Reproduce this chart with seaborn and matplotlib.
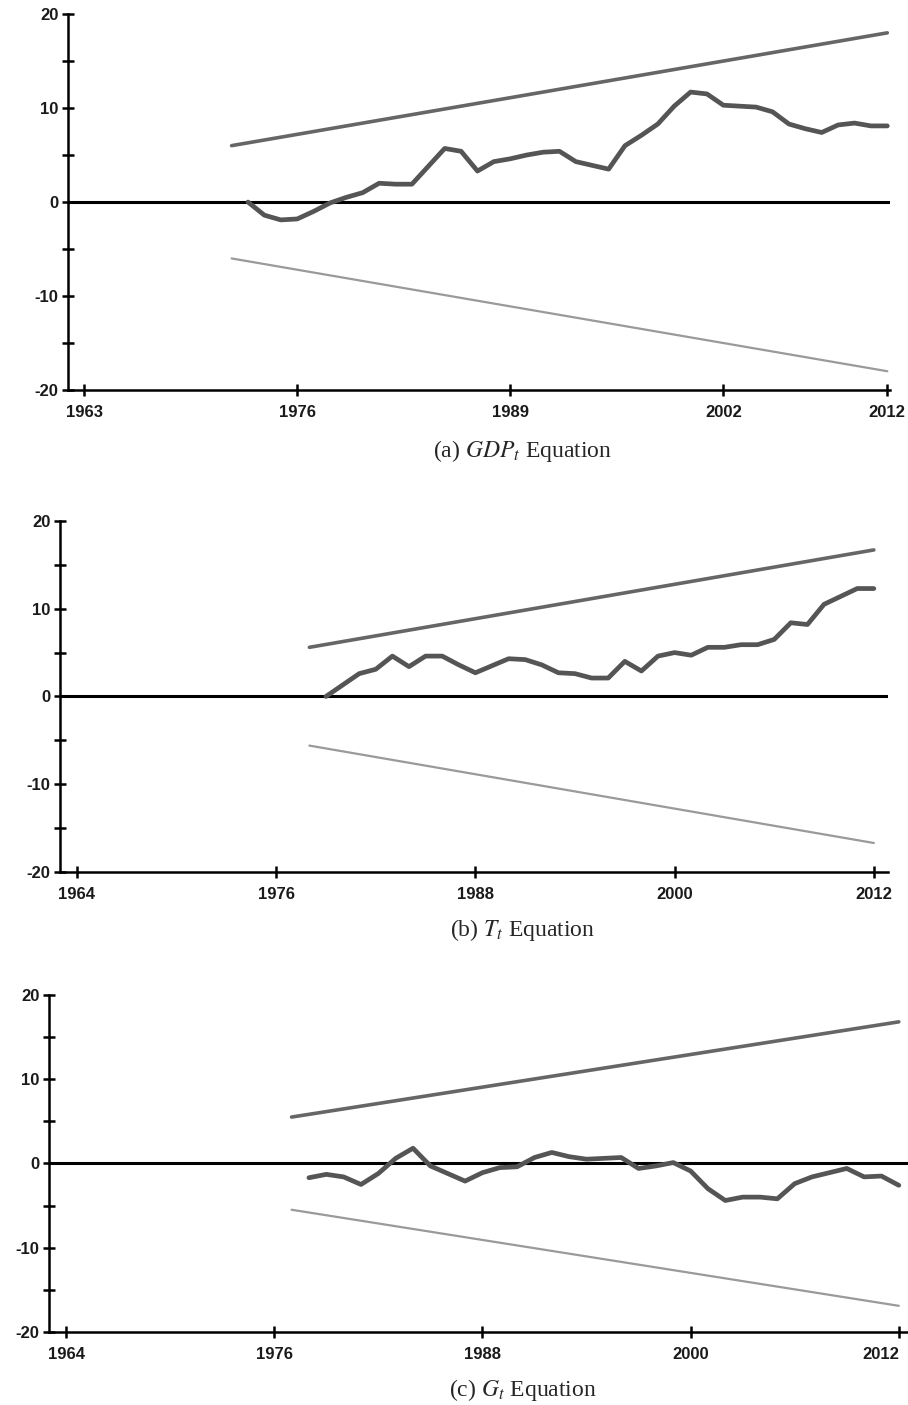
import numpy as np
import matplotlib
matplotlib.use("Agg")
import matplotlib.pyplot as plt
from matplotlib.ticker import FixedLocator, FuncFormatter
import seaborn as sns

sns.set_style("white")
plt.rcParams['font.family'] = ['Liberation Sans', 'DejaVu Sans']
plt.rcParams['mathtext.fontset'] = 'stix'

# (a) GDP equation
years_a = list(range(1973, 2013))
cusum_a = [0.0, -1.4, -1.9, -1.8, -1.0, -0.1, 0.5, 1.0, 2.0, 1.9,
           1.9, 3.8, 5.7, 5.4, 3.3, 4.3, 4.6, 5.0, 5.3, 5.4,
           4.3, 3.9, 3.5, 6.0, 7.1, 8.3, 10.2, 11.7, 11.5, 10.3,
           10.2, 10.1, 9.6, 8.3, 7.8, 7.4, 8.2, 8.4, 8.1, 8.1]
bound_years_a = [1972, 2012]
upper_a = [6.0, 18.0]
lower_a = [-6.0, -18.0]
xticks_a = [1963, 1976, 1989, 2002, 2012]

# (b) T equation
years_b = list(range(1979, 2013))
cusum_b = [0.0, 1.3, 2.6, 3.1, 4.6, 3.4, 4.6, 4.6, 3.6, 2.7,
           3.5, 4.3, 4.2, 3.6, 2.7, 2.6, 2.1, 2.1, 4.0, 2.9,
           4.6, 5.0, 4.7, 5.6, 5.6, 5.9, 5.9, 6.5, 8.4, 8.2,
           10.5, 11.4, 12.3, 12.3]
bound_years_b = [1978, 2012]
upper_b = [5.6, 16.7]
lower_b = [-5.6, -16.7]
xticks_b = [1964, 1976, 1988, 2000, 2012]

# (c) G equation
years_c = list(range(1978, 2013))
cusum_c = [-1.7, -1.3, -1.6, -2.5, -1.2, 0.6, 1.8, -0.3, -1.2, -2.1,
           -1.1, -0.5, -0.4, 0.7, 1.3, 0.8, 0.5, 0.6, 0.7, -0.6,
           -0.3, 0.1, -0.9, -3.0, -4.4, -4.0, -4.0, -4.2, -2.4, -1.6,
           -1.1, -0.6, -1.6, -1.5, -2.6]
bound_years_c = [1977, 2012]
upper_c = [5.5, 16.8]
lower_c = [-5.5, -16.9]
xticks_c = [1964, 1976, 1988, 2000, 2012]

captions = [r"(a) $\mathit{GDP}_t$ Equation", r"(b) $T_t$ Equation", r"(c) $G_t$ Equation"]

fig = plt.figure(figsize=(9.08, 14.05), dpi=100)

panels = [
    ([0.0749, 0.7224, 0.905, 0.2676], (1962.02, 2012.15), years_a, cusum_a, bound_years_a, upper_a, lower_a, xticks_a, (523, 451)),
    ([0.0661, 0.3794, 0.912, 0.2498], (1962.98, 2012.86), years_b, cusum_b, bound_years_b, upper_b, lower_b, xticks_b, (523, 930)),
    ([0.0540, 0.0520, 0.946, 0.2399], (1963.02, 2012.53), years_c, cusum_c, bound_years_c, upper_c, lower_c, xticks_c, (523, 1390)),
]

for i, (rect, xlim, yrs, cs, byrs, up, lo, xt, cap) in enumerate(panels):
    ax = fig.add_axes(rect)
    ax.axhline(0, color='black', lw=2.2, zorder=1)
    sns.lineplot(x=byrs, y=up, ax=ax, color='#666666', lw=2.6)
    sns.lineplot(x=byrs, y=lo, ax=ax, color='#9a9a9a', lw=1.6)
    sns.lineplot(x=yrs, y=cs, ax=ax, color='#555555', lw=3.4)
    ax.set_xlim(*xlim)
    ax.set_ylim(-20, 20)
    ax.set_xticks(xt)
    ax.set_xticklabels([str(v) for v in xt])
    ax.yaxis.set_major_locator(FixedLocator([-20, -15, -10, -5, 0, 5, 10, 15, 20]))
    ax.yaxis.set_major_formatter(FuncFormatter(lambda v, p: f"{int(v)}" if v % 10 == 0 else ""))
    ax.set_xlabel("")
    ax.set_ylabel("")
    for s in ['top', 'right']:
        ax.spines[s].set_visible(False)
    for s in ['left', 'bottom']:
        ax.spines[s].set_color('black')
        ax.spines[s].set_linewidth(1.8)
    ax.tick_params(axis='both', direction='inout', length=8, width=1.8, color='black',
                   bottom=True, left=True, labelsize=12, pad=3)
    ax.tick_params(axis='x', pad=7)
    for lab in ax.get_xticklabels() + ax.get_yticklabels():
        lab.set_fontweight('bold')
        lab.set_color('#1a1a1a')
    if i == 2:
        # last label sits at the figure edge; keep it inside
        ax.get_xticklabels()[-1].set_ha('right')
    ax.patch.set_alpha(0)
    fig.text(cap[0] / 908, 1 - cap[1] / 1405, captions[i], ha='center', va='center',
             fontsize=17, family=['Liberation Serif', 'DejaVu Serif'])

fig.savefig("out.png", dpi=100)
